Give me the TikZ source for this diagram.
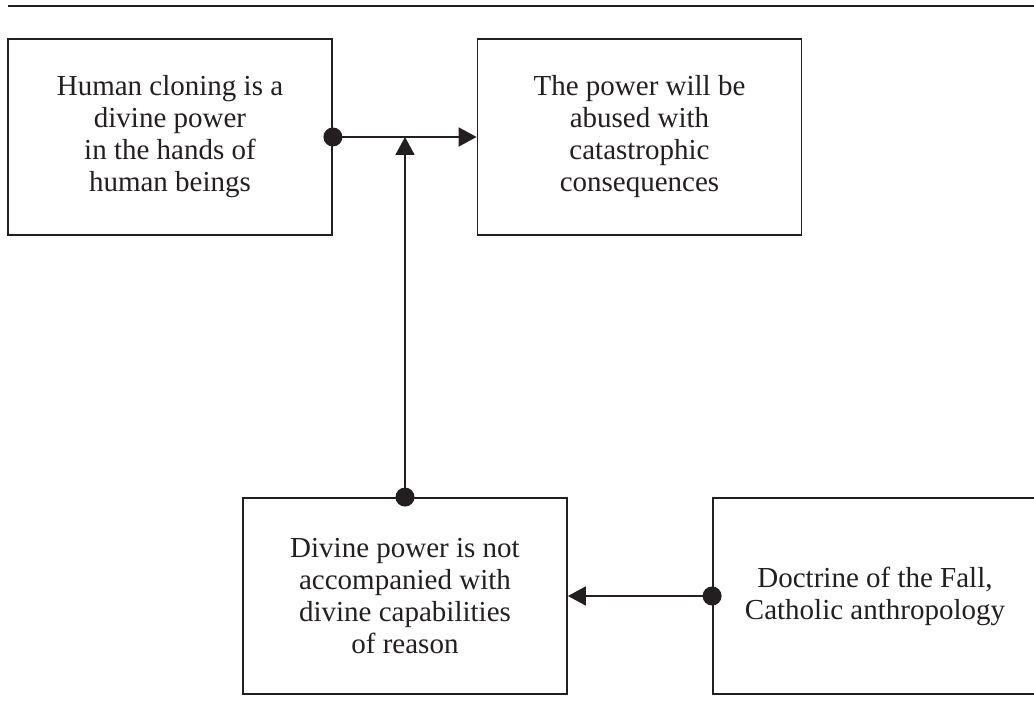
\documentclass[tikz,border=0pt]{standalone}
\usepackage{fontspec}
\setmainfont{Liberation Serif}
\usepackage{tikz}
\usetikzlibrary{arrows.meta}
\definecolor{ink}{RGB}{35,31,32}

\begin{document}
\begin{tikzpicture}[x=1pt,y=1pt,
  box/.style={draw=ink, line width=1.8pt, minimum width=324pt, minimum height=196pt,
    align=center, inner sep=0pt, text=ink, font=\fontsize{29}{32}\selectfont},
  conn/.style={draw=ink, line width=1.8pt, -{Triangle[length=18pt,width=19pt]}}]
\useasboundingbox (0,0) rectangle (1034,711);
\draw[color=ink, line width=2.8pt] (8,705) -- (1034,705);

\node[box] (clone) at (170,574) {Human cloning is a\\divine power\\in the hands of\\human beings};
\node[box] (abuse) at (639.5,574) {The power will be\\abused with\\catastrophic\\consequences};
\node[box] (reason) at (405,115) {Divine power is not\\accompanied with\\divine capabilities\\of reason};
\node[box] (fall) at (875,115) {Doctrine of the Fall,\\Catholic anthropology};
\coordinate (join) at (reason.north |- clone.east);

\draw[conn] (clone.east) -- (abuse.west);
\draw[conn] (reason.north) -- (join);
\draw[conn] (fall.west) -- (reason.east);

\fill[color=ink] (clone.east) circle (9.5pt);
\fill[color=ink] (reason.north) circle (9.5pt);
\fill[color=ink] (fall.west) circle (9.5pt);
\end{tikzpicture}
\end{document}
